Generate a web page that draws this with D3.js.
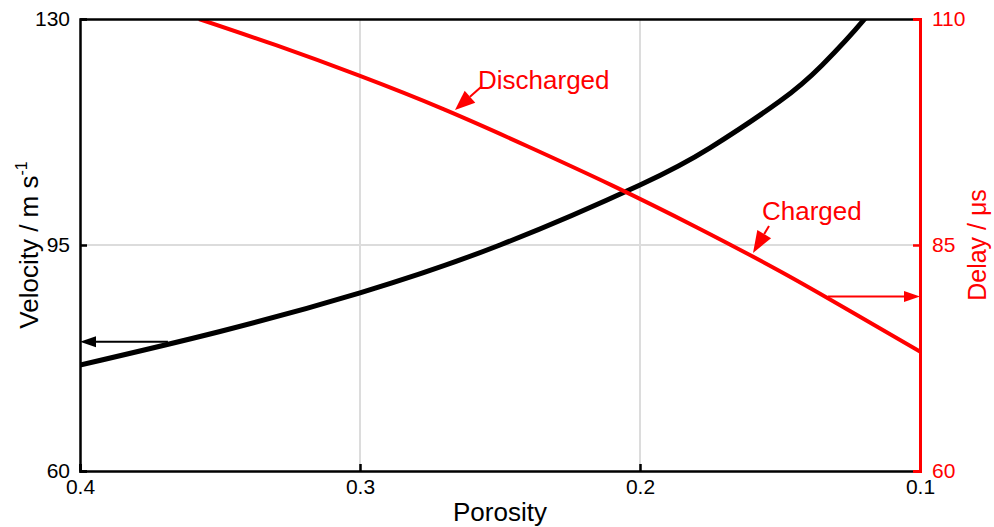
<!DOCTYPE html>
<html>
<head>
<meta charset="utf-8">
<script src="https://cdn.jsdelivr.net/npm/d3@7"></script>
<style>
  html, body { margin: 0; padding: 0; background: #fff; }
  svg { display: block; font-family: "Liberation Sans", Arial, sans-serif; }
</style>
</head>
<body>
<svg id="chart" width="994" height="527"></svg>
<script>
// Porosity samples and the two measured curves
const velocityPorosity = [0.40, 0.35, 0.30, 0.25, 0.20, 0.175, 0.15, 0.135, 0.12, 0.11];
const velocity        = [76.4, 81.6, 87.6, 95.0, 104.3, 110.05, 117.3, 122.85, 129.9, 135.8];

const delayPorosity = [0.3575, 0.33, 0.30, 0.27, 0.24, 0.21, 0.18, 0.15, 0.125, 0.10];
const delay         = [110.0, 107.1, 103.7, 100.0, 95.9, 91.6, 87.0, 82.1, 77.7, 73.2];

const xTicks = [0.4, 0.3, 0.2, 0.1];
const yLeftTicks = [60, 95, 130];
const yRightTicks = [60, 85, 110];

const red = "#ff0000";
const svg = d3.select("#chart");
const m = { left: 80, right: 920, top: 19, bottom: 471 };

const x = d3.scaleLinear().domain([0.4, 0.1]).range([m.left, m.right]);
const yL = d3.scaleLinear().domain([60, 130]).range([m.bottom, m.top]);
const yR = d3.scaleLinear().domain([60, 110]).range([m.bottom, m.top]);

// grid
const grid = svg.append("g").attr("stroke", "#dcdcdc").attr("stroke-width", 2);
xTicks.slice(1, -1).forEach(t => grid.append("line")
  .attr("x1", x(t)).attr("x2", x(t)).attr("y1", m.top).attr("y2", m.bottom));
yLeftTicks.slice(1, -1).forEach(t => grid.append("line")
  .attr("x1", m.left).attr("x2", m.right).attr("y1", yL(t)).attr("y2", yL(t)));

// clip for curves
svg.append("clipPath").attr("id", "plot").append("rect")
  .attr("x", m.left).attr("y", m.top).attr("width", m.right - m.left).attr("height", m.bottom - m.top);

const line = (xs, ys, ysc) => d3.line().curve(d3.curveNatural)
  .x((d, i) => x(xs[i])).y((d, i) => ysc(ys[i]))(xs);

svg.append("path").attr("clip-path", "url(#plot)")
  .attr("d", line(velocityPorosity, velocity, yL))
  .attr("fill", "none").attr("stroke", "#000").attr("stroke-width", 5);

svg.append("path").attr("clip-path", "url(#plot)")
  .attr("d", line(delayPorosity, delay, yR))
  .attr("fill", "none").attr("stroke", red).attr("stroke-width", 4);

// axes
const fs = 21;
const font = "Liberation Sans, Arial, sans-serif";
const bottomAxis = d3.axisBottom(x).tickValues(xTicks).tickFormat(d3.format(".1f")).tickSize(-7).tickPadding(10);
const gB = svg.append("g").attr("transform", `translate(0,${m.bottom})`).call(bottomAxis);
const topAxis = d3.axisTop(x).tickValues([]).tickSizeOuter(0);
const gT = svg.append("g").attr("transform", `translate(0,${m.top})`).call(topAxis);
const leftAxis = d3.axisLeft(yL).tickValues(yLeftTicks).tickSize(-7).tickPadding(12);
const gL = svg.append("g").attr("transform", `translate(${m.left},0)`).call(leftAxis);
const rightAxis = d3.axisRight(yR).tickValues(yRightTicks).tickSize(-7).tickPadding(12);
const gR = svg.append("g").attr("transform", `translate(${m.right},0)`).call(rightAxis);

[gB, gT, gL].forEach(g => {
  g.select(".domain").attr("stroke", "#000").attr("stroke-width", 2.5);
  g.selectAll(".tick line").attr("stroke", "#000").attr("stroke-width", 2.5);
  g.selectAll("text").attr("font-size", fs).attr("fill", "#000").attr("font-family", font);
});
gR.select(".domain").attr("stroke", red).attr("stroke-width", 3);
gR.selectAll(".tick line").attr("stroke", red).attr("stroke-width", 2.5);
gR.selectAll("text").attr("font-size", fs).attr("fill", red).attr("font-family", font);
gB.selectAll(".tick text").attr("y", 8).attr("dy", "0.71em");
gL.selectAll(".tick text").attr("x", -10);
gR.selectAll(".tick text").attr("x", 12);

// axis titles
const tfs = 26;
svg.append("text").attr("x", (m.left + m.right) / 2).attr("y", 521)
  .attr("text-anchor", "middle").attr("font-size", tfs).text("Porosity");

const vt = svg.append("text").attr("transform", `translate(38,${(m.top + m.bottom) / 2}) rotate(-90)`)
  .attr("text-anchor", "middle").attr("font-size", tfs);
vt.append("tspan").text("Velocity / m s");
vt.append("tspan").attr("dy", -11).attr("font-size", 16).text("-1");

svg.append("text").attr("transform", `translate(986,${(m.top + m.bottom) / 2}) rotate(-90)`)
  .attr("text-anchor", "middle").attr("font-size", 25).attr("fill", red).text("Delay / μs");

// axis pointers
function arrow(x1, y1, x2, y2, color, width, headLen, headHalf) {
  const ang = Math.atan2(y2 - y1, x2 - x1);
  const bx = x2 - headLen * Math.cos(ang), by = y2 - headLen * Math.sin(ang);
  svg.append("line").attr("x1", x1).attr("y1", y1).attr("x2", bx).attr("y2", by)
    .attr("stroke", color).attr("stroke-width", width);
  const px = -Math.sin(ang) * headHalf, py = Math.cos(ang) * headHalf;
  svg.append("path")
    .attr("d", `M${x2},${y2}L${bx + px},${by + py}L${bx - px},${by - py}Z`)
    .attr("fill", color);
}
const arrowV = 80.0;
arrow(x(0.3686), yL(arrowV), x(0.4), yL(arrowV), "#000", 2, 16, 5.5);
const arrowD = 79.3;
arrow(x(0.1329), yR(arrowD), x(0.1), yR(arrowD), red, 2, 16, 5.5);

// curve labels
arrow(481, 87, 455, 110, red, 2, 20, 8);
svg.append("text").attr("x", 478).attr("y", 89).attr("font-size", tfs).attr("fill", red).text("Discharged");
arrow(769, 226, 753, 253, red, 2, 22, 8);
svg.append("text").attr("x", 762).attr("y", 220).attr("font-size", tfs).attr("fill", red).text("Charged");
</script>
</body>
</html>
